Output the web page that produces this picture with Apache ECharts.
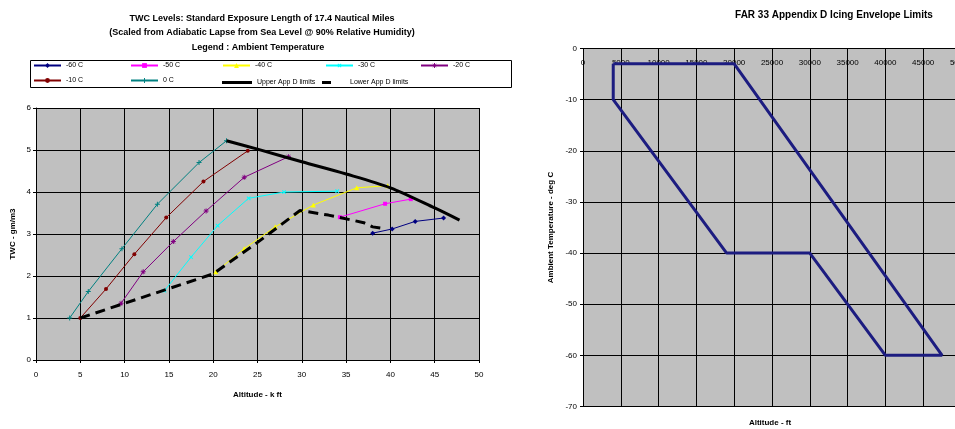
<!DOCTYPE html>
<html>
<head>
<meta charset="utf-8">
<script src="https://cdn.jsdelivr.net/npm/echarts@6/dist/echarts.min.js"></script>
<style>
  html, body { margin: 0; padding: 0; background: #fff; }
  #chart { width: 955px; height: 429px; }
</style>
</head>
<body>
<div id="chart"></div>
<script>
// TWC curves: [altitude kft, TWC gm/m3] per ambient temperature
const curveM60 = [[38.0, 3.02], [40.2, 3.12], [42.8, 3.30], [46.0, 3.38]];
const curveM50 = [[34.3, 3.40], [39.4, 3.72], [42.3, 3.83]];
const curveM40 = [[20.3, 2.10], [23.5, 2.65], [27.0, 3.17], [31.3, 3.69], [36.2, 4.10], [39.7, 4.15]];
const curveM30 = [[14.5, 1.65], [17.5, 2.45], [20.5, 3.20], [24.0, 3.85], [28.0, 4.00], [34.0, 4.02]];
const curveM20 = [[9.6, 1.35], [12.1, 2.10], [15.5, 2.82], [19.2, 3.55], [23.5, 4.35], [28.5, 4.84]];
const curveM10 = [[5.0, 1.00], [7.9, 1.69], [11.1, 2.52], [14.7, 3.39], [18.9, 4.25], [23.9, 4.98]];
const curve0 = [[3.8, 1.00], [5.9, 1.63], [9.7, 2.65], [13.7, 3.71], [18.4, 4.70], [21.5, 5.22]];
const upperLimit = [[21.5, 5.22], [25, 5.02], [30, 4.72], [35, 4.43], [40, 4.10], [45, 3.62], [47.8, 3.33]];
const lowerLimit = [[5, 1.0], [10, 1.35], [15, 1.70], [20, 2.05], [25, 2.80], [29.8, 3.56], [33, 3.45], [37, 3.27], [38, 3.17], [39.5, 3.12]];

// Icing envelope outline: altitude (ft) and ambient temperature (deg C)
const envAltitude = [4000, 20000, 47500, 40000, 30000, 19000, 4000, 4000];
const envTemp = [-3, -3, -60, -60, -40, -40, -10, -3];

const FONT = 'Liberation Sans, Arial, sans-serif';

const plusPath = 'path://M4,0H6V4H10V6H6V10H4V6H0V4H4Z';
const starPath = 'path://M4,0H6V4H10V6H6V10H4V6H0V4H4Z M1.5,0.8L9.2,8.5L8.5,9.2L0.8,1.5Z M8.5,0.8L9.2,1.5L1.5,9.2L0.8,8.5Z';

function tempSeries(name, data, color, symbol, size, rotate) {
  return {
    name: name, type: 'line', xAxisIndex: 0, yAxisIndex: 0,
    data: data, symbol: symbol, symbolSize: size, symbolRotate: rotate || 0,
    showSymbol: true, animation: false,
    lineStyle: { color: color, width: 1 },
    itemStyle: { color: color },
    z: 3
  };
}

const legendNames = ['-60 C', '-50 C', '-40 C', '-30 C', '-20 C', '-10 C', '0 C', 'Upper App D limits', 'Lower App D limits'];
const legendSpots = [[33, 62], [130, 62], [222, 62], [325, 62], [420, 62], [33, 77], [130, 77], [222, 77], [322, 77]];

const legends = legendNames.map((n, i) => {
  const lg = {
    data: [n],
    left: legendSpots[i][0], top: legendSpots[i][1],
    itemWidth: 27, itemHeight: 6, itemGap: 2,
    padding: 0, selectedMode: false,
    textStyle: { fontSize: 7, color: '#000', fontFamily: FONT, padding: [0, 0, 0, 0] }
  };
  if (i === 7) {
    lg.data = [{ name: n, icon: 'path://M0,0H30V3H0Z' }];
    lg.itemHeight = 3; lg.itemWidth = 30; lg.top = legendSpots[i][1] + 2;
  }
  if (i === 8) {
    lg.data = [{ name: n, icon: 'path://M0,0H9V3H0Z' }];
    lg.itemHeight = 3; lg.itemWidth = 9; lg.itemGap = 16; lg.top = legendSpots[i][1] + 2;
    lg.textStyle = Object.assign({}, lg.textStyle, { padding: [0, 0, 0, 14] });
  }
  return lg;
});

const axisLineBlack = { show: true, lineStyle: { color: '#000', width: 1 } };
const gridLineBlack = { show: true, lineStyle: { color: '#000', width: 1 } };
const plainNumber = v => String(v);

const option = {
  animation: false,
  backgroundColor: '#fff',
  graphic: [
    { type: 'rect', shape: { x: 30.5, y: 60.5, width: 481, height: 27 }, style: { fill: '#fff', stroke: '#000', lineWidth: 1 }, z: -1 },
    { type: 'text', x: 262, y: 19, style: { text: 'TWC Levels: Standard Exposure Length of 17.4 Nautical Miles', font: 'bold 9px ' + FONT, fill: '#000', align: 'center', verticalAlign: 'middle' } },
    { type: 'text', x: 262, y: 33, style: { text: '(Scaled from Adiabatic Lapse from Sea Level @ 90% Relative Humidity)', font: 'bold 9px ' + FONT, fill: '#000', align: 'center', verticalAlign: 'middle' } },
    { type: 'text', x: 258, y: 48, style: { text: 'Legend : Ambient Temperature', font: 'bold 9px ' + FONT, fill: '#000', align: 'center', verticalAlign: 'middle' } },
    { type: 'text', x: 834, y: 15, style: { text: 'FAR 33 Appendix D Icing Envelope Limits', font: 'bold 10px ' + FONT, fill: '#000', align: 'center', verticalAlign: 'middle' } },
    { type: 'text', x: 770, y: 423, style: { text: 'Altitude - ft', font: 'bold 8px ' + FONT, fill: '#000', align: 'center', verticalAlign: 'middle' } }
  ],
  legend: legends,
  grid: [
    { left: 36, top: 108, width: 443, height: 252, show: true, backgroundColor: '#c0c0c0', borderWidth: 0, outerBoundsMode: 'none', containLabel: false },
    { left: 583, top: 48.5, width: 378, height: 358, show: true, backgroundColor: '#c0c0c0', borderWidth: 0, outerBoundsMode: 'none', containLabel: false }
  ],
  xAxis: [
    {
      gridIndex: 0, type: 'value', min: 0, max: 50, interval: 5,
      name: 'Altitude - k ft', nameLocation: 'middle', nameGap: 31,
      nameTextStyle: { fontSize: 8, fontWeight: 'bold', color: '#000', fontFamily: FONT },
      axisLine: axisLineBlack, axisTick: { show: true, length: 3, lineStyle: { color: '#000' } },
      axisLabel: { fontSize: 8, color: '#000', fontFamily: FONT, margin: 11, formatter: plainNumber },
      splitLine: gridLineBlack
    },
    {
      gridIndex: 1, type: 'value', min: 0, max: 50000, interval: 5000, position: 'top',
      axisLine: axisLineBlack, axisTick: { show: true, inside: true, length: 3, lineStyle: { color: '#000' } },
      axisLabel: { inside: true, fontSize: 8, color: '#000', fontFamily: FONT, margin: 10, formatter: plainNumber },
      splitLine: gridLineBlack
    }
  ],
  yAxis: [
    {
      gridIndex: 0, type: 'value', min: 0, max: 6, interval: 1,
      name: 'TWC - gm/m3', nameLocation: 'middle', nameGap: 19, nameRotate: 90,
      nameTextStyle: { fontSize: 8, fontWeight: 'bold', color: '#000', fontFamily: FONT },
      axisLine: axisLineBlack, axisTick: { show: true, length: 3, lineStyle: { color: '#000' } },
      axisLabel: { fontSize: 8, color: '#000', fontFamily: FONT, margin: 5, formatter: plainNumber },
      splitLine: gridLineBlack
    },
    {
      gridIndex: 1, type: 'value', min: -70, max: 0, interval: 10,
      name: 'Ambient Temperature - deg C', nameLocation: 'middle', nameGap: 28, nameRotate: 90,
      nameTextStyle: { fontSize: 8, fontWeight: 'bold', color: '#000', fontFamily: FONT },
      axisLine: axisLineBlack, axisTick: { show: true, length: 3, lineStyle: { color: '#000' } },
      axisLabel: { fontSize: 8, color: '#000', fontFamily: FONT, margin: 6, formatter: plainNumber },
      splitLine: gridLineBlack
    }
  ],
  series: [
    tempSeries('-60 C', curveM60, '#000080', 'diamond', 5),
    tempSeries('-50 C', curveM50, '#ff00ff', 'rect', 4),
    tempSeries('-40 C', curveM40, '#ffff00', 'triangle', 5),
    tempSeries('-30 C', curveM30, '#00ffff', plusPath, 5, 45),
    tempSeries('-20 C', curveM20, '#800080', starPath, 5),
    tempSeries('-10 C', curveM10, '#800000', 'circle', 4),
    tempSeries('0 C', curve0, '#008080', plusPath, 5),
    {
      name: 'Upper App D limits', type: 'line', xAxisIndex: 0, yAxisIndex: 0,
      data: upperLimit, symbol: 'none', smooth: 0.3,
      lineStyle: { color: '#000', width: 3 }, itemStyle: { color: '#000' }, z: 4
    },
    {
      name: 'Lower App D limits', type: 'line', xAxisIndex: 0, yAxisIndex: 0,
      data: lowerLimit, symbol: 'none',
      lineStyle: { color: '#000', width: 3, type: [10, 6] }, itemStyle: { color: '#000' }, z: 4
    },
    {
      name: 'Envelope', type: 'line', xAxisIndex: 1, yAxisIndex: 1,
      data: envAltitude.map((a, i) => [a, envTemp[i]]), symbol: 'none',
      lineStyle: { color: '#1c1c80', width: 3 }, z: 4
    }
  ]
};

const chart = echarts.init(document.getElementById('chart'), null, { renderer: 'canvas' });
chart.setOption(option);
</script>
</body>
</html>
